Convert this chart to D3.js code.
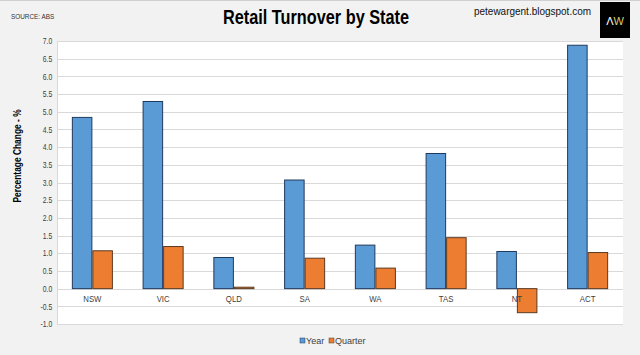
<!DOCTYPE html>
<html>
<head>
<meta charset="utf-8">
<script src="https://cdn.jsdelivr.net/npm/d3@7"></script>
<style>
  html, body { margin: 0; padding: 0; background: #f2f2f2; }
  svg { display: block; }
  text { font-family: "Liberation Sans", Arial, sans-serif; }
</style>
</head>
<body>
<svg id="chart" width="640" height="355"></svg>
<script>
const categories = ["NSW", "VIC", "QLD", "SA", "WA", "TAS", "NT", "ACT"];
const seriesNames = ["Year", "Quarter"];
const yearValues = [4.84, 5.29, 0.88, 3.07, 1.23, 3.82, 1.05, 6.88];
const quarterValues = [1.07, 1.19, 0.04, 0.86, 0.58, 1.44, -0.68, 1.02];
const yTicks = [-1.0, -0.5, 0.0, 0.5, 1.0, 1.5, 2.0, 2.5, 3.0, 3.5, 4.0, 4.5, 5.0, 5.5, 6.0, 6.5, 7.0];

const seriesValues = [yearValues, quarterValues];
const fills = ["#5b9bd5", "#ed7d31"];
const strokes = ["#1f3a5f", "#5a3a22"];

const svg = d3.select("#chart");
const W = 640, H = 355;
const plot = { left: 57, right: 623, top: 41, bottom: 324 };
const NARROW = 0.8;

svg.append("rect").attr("width", W).attr("height", H).attr("fill", "#f2f2f2");
svg.append("line").attr("x1", 0).attr("x2", W).attr("y1", 0.5).attr("y2", 0.5).attr("stroke", "#d0d0d0");

// plot area
svg.append("rect")
  .attr("x", plot.left).attr("y", plot.top)
  .attr("width", plot.right - plot.left).attr("height", plot.bottom - plot.top)
  .attr("fill", "#ffffff");

const y = d3.scaleLinear().domain([-1, 7]).range([plot.bottom, plot.top]);
const x0 = d3.scaleBand().domain(categories).range([plot.left, plot.right])
  .paddingInner(0.42).paddingOuter(0.21);
const x1 = d3.scaleBand().domain(seriesNames).range([0, x0.bandwidth()]);

// gridlines
svg.append("g").selectAll("line").data(yTicks).join("line")
  .attr("x1", plot.left).attr("x2", plot.right)
  .attr("y1", d => Math.round(y(d)) + 0.5).attr("y2", d => Math.round(y(d)) + 0.5)
  .attr("stroke", "#d9d9d9").attr("stroke-width", 1);

// left axis line
svg.append("line").attr("x1", plot.left + 0.5).attr("x2", plot.left + 0.5)
  .attr("y1", plot.top).attr("y2", plot.bottom).attr("stroke", "#d9d9d9");

// y axis labels
const yAxis = d3.axisLeft(y).tickValues(yTicks).tickFormat(d => d3.format(".1f")(d).replace("−", "-"))
  .tickSize(0).tickPadding(6);
const gy = svg.append("g").attr("transform", `translate(${plot.left},0)`).call(yAxis);
gy.select(".domain").remove();
gy.selectAll("text").attr("font-size", "8.5px").attr("fill", "#404040")
  .attr("font-family", "Liberation Sans, Arial, sans-serif")
  .attr("transform", `scale(${NARROW},1)`);

// bars
const groups = svg.append("g").selectAll("g").data(categories).join("g")
  .attr("transform", d => `translate(${x0(d)},0)`);
groups.selectAll("rect").data((d, i) => seriesNames.map((s, j) => ({ s, j, v: seriesValues[j][i] })))
  .join("rect")
  .attr("x", d => x1(d.s) + 0.5)
  .attr("width", x1.bandwidth() - 1)
  .attr("y", d => y(Math.max(0, d.v)))
  .attr("height", d => Math.abs(y(d.v) - y(0)))
  .attr("fill", d => fills[d.j])
  .attr("stroke", d => strokes[d.j])
  .attr("stroke-width", 1);

// x axis labels
const xAxis = d3.axisBottom(x0).tickSize(0).tickPadding(7);
const gx = svg.append("g").attr("transform", `translate(0,${y(0)})`).call(xAxis);
gx.select(".domain").remove();
gx.selectAll("text").attr("font-size", "9.5px").attr("fill", "#404040")
  .attr("font-family", "Liberation Sans, Arial, sans-serif")
  .attr("transform", "scale(0.82,1)");

// axis title
svg.append("text")
  .attr("transform", "translate(21,156) rotate(-90) scale(0.84,1)")
  .attr("text-anchor", "middle")
  .attr("font-size", "10px").attr("font-weight", "bold").attr("fill", "#000")
  .text("Percentage Change - %");

// title
svg.append("text")
  .attr("x", 223).attr("y", 24)
  .attr("textLength", 186).attr("lengthAdjust", "spacingAndGlyphs")
  .attr("font-size", "20px").attr("font-weight", "bold").attr("fill", "#000")
  .text("Retail Turnover by State");

svg.append("text")
  .attr("transform", "translate(11,19) scale(0.8,1)")
  .attr("font-size", "8px").attr("fill", "#333")
  .text("SOURCE: ABS");

svg.append("text")
  .attr("x", 474).attr("y", 15)
  .attr("textLength", 117).attr("lengthAdjust", "spacingAndGlyphs")
  .attr("font-size", "10.5px").attr("fill", "#111")
  .text("petewargent.blogspot.com");

// logo
svg.append("rect").attr("x", 600).attr("y", 2).attr("width", 30).attr("height", 36).attr("fill", "#000");
const logo = svg.append("text").attr("x", 615).attr("y", 25).attr("text-anchor", "middle")
  .attr("font-size", "11px");
logo.append("tspan").attr("fill", "#ffffff").text("Λ");
logo.append("tspan").attr("fill", "#d8cf6a").text("W");

// legend
const legend = svg.append("g").attr("transform", "translate(300,341)");
const items = [{ name: seriesNames[0], x: 0 }, { name: seriesNames[1], x: 29 }];
items.forEach((it, j) => {
  legend.append("rect").attr("x", it.x).attr("y", -3).attr("width", 5).attr("height", 5)
    .attr("fill", fills[j]).attr("stroke", strokes[j]).attr("stroke-width", 0.5);
  legend.append("text").attr("x", it.x + 6).attr("y", 3)
    .attr("font-size", "9px").attr("fill", "#404040").text(it.name);
});
</script>
</body>
</html>
